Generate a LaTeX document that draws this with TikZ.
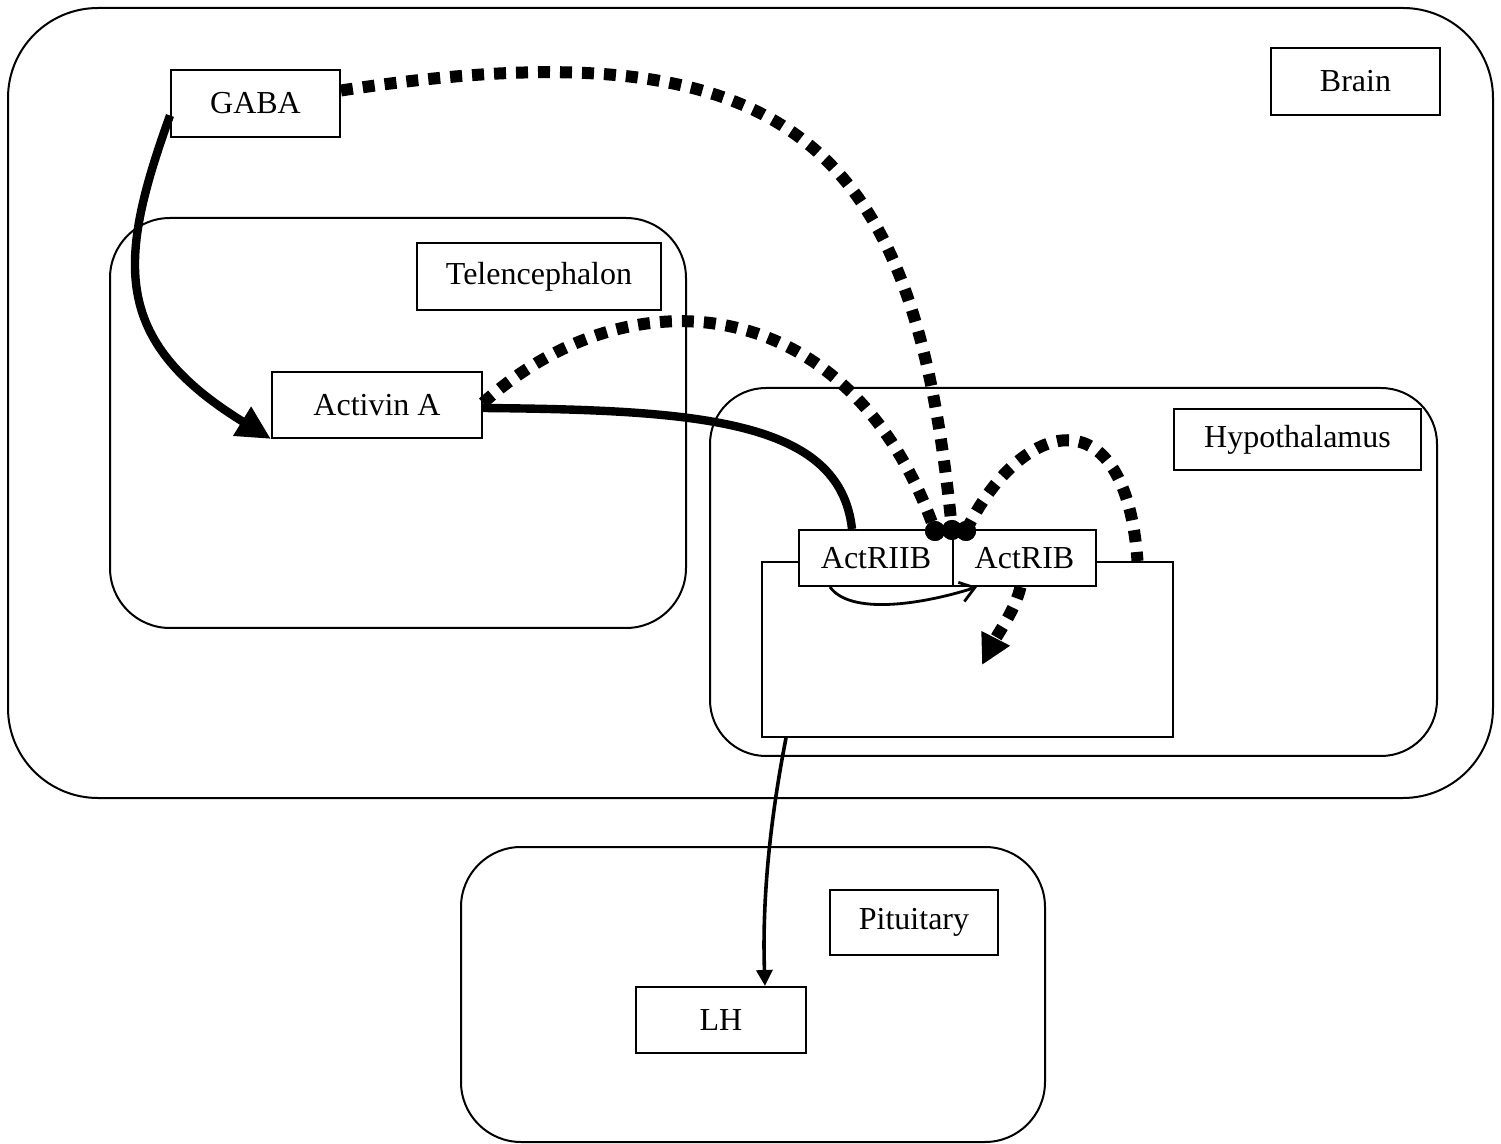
\documentclass[tikz,border=0pt]{standalone}
\usepackage{fontspec}
\setmainfont{Liberation Serif}
\usetikzlibrary{arrows.meta}
\begin{document}
\begin{tikzpicture}[x=0.5pt,y=-0.5pt,
  region/.style={draw, line width=1pt, inner sep=0pt},
  lbox/.style={draw, line width=1pt, fill=white, inner sep=0pt, font=\fontsize{16}{19}\selectfont},
  dotline/.style={line width=6pt, dash pattern=on 6pt off 5pt},
  thickline/.style={line width=4.2pt},
  knob/.style={circle, fill=black, inner sep=0pt, minimum size=10pt}]
\useasboundingbox (0,0) rectangle (1501,1144);
% regions
\node[region, rounded corners=45pt, minimum width=742.5pt, minimum height=395pt] (brain) at (750.5,403) {};
\node[region, rounded corners=30pt, minimum width=288pt, minimum height=205pt] (tel) at (398,423) {};
\node[region, rounded corners=28pt, minimum width=363.5pt, minimum height=184pt] (hyp) at (1073.5,572) {};
\node[region, rounded corners=30pt, minimum width=292pt, minimum height=147.5pt] (pit) at (753,994.5) {};
\node[region, minimum width=205.5pt, minimum height=87.5pt] (cell) at (967.5,649.5) {};
% label boxes
\node[lbox, minimum width=84.5pt, minimum height=33.5pt] (brainlbl) at (1355.5,81.5) {Brain};
\node[lbox, minimum width=84.5pt, minimum height=33.5pt] (gaba) at (255.5,103.5) {GABA};
\node[lbox, minimum width=122pt, minimum height=33.5pt] (tellbl) at (539,276.5) {Telencephalon};
\node[lbox, minimum width=105pt, minimum height=33pt] (activin) at (377,405) {Activin A};
\node[lbox, minimum width=123.5pt, minimum height=30.5pt] (hyplbl) at (1297.5,439.5) {Hypothalamus};
\node[lbox, minimum width=77pt, minimum height=28pt] (actriib) at (876,558) {ActRIIB};
\node[lbox, minimum width=71.5pt, minimum height=28pt] (actrib) at (1024.5,558) {ActRIB};
\node[lbox, minimum width=84pt, minimum height=32.5pt] (pitlbl) at (914,922.5) {Pituitary};
\node[lbox, minimum width=85pt, minimum height=33pt] (lh) at (721,1020) {LH};
% knobs
\node[knob] (d1) at (935,531) {};
\node[knob] (d2) at (952,530) {};
\node[knob] (d3) at (966,531) {};
\coordinate (sig) at (982,665);
% connectors
\draw[thickline, -{Triangle[length=17pt,width=16pt]}]
  ([yshift=-6pt]gaba.west) .. controls (118,260) and (110,340) .. (activin.south west);
\draw[dotline]
  ([yshift=6.5pt]gaba.east) .. controls (800,20) and (915,150) .. (d2.center);
\draw[dotline]
  ([yshift=1pt]activin.east) .. controls (630,270) and (850,290) .. (d1.center);
\draw[thickline]
  ([yshift=-1.5pt]activin.east) .. controls (700,410) and (840,420) .. ([xshift=-12pt]actriib.north);
\draw[dotline]
  (d3.center) .. controls (1020,420) and (1125,390) .. ([xshift=85pt]cell.north);
\draw[line width=1.4pt, -{Straight Barb[length=7pt,width=10pt]}]
  ([xshift=-23pt]actriib.south) .. controls (850,615) and (920,605) .. ([xshift=12.5pt]actrib.south west);
\draw[dotline, -{Triangle[length=15pt,width=15pt]}]
  ([xshift=-2pt]actrib.south) .. controls (1015,610) and (1000,630) .. (sig);
\draw[line width=1.8pt, -{Triangle[length=8pt,width=8pt]}]
  ([xshift=12.5pt]cell.south west) .. controls (770,820) and (762,900) .. ([xshift=22pt]lh.north);
\node[knob] at (d1) {};
\node[knob] at (d2) {};
\node[knob] at (d3) {};
\end{tikzpicture}
\end{document}
